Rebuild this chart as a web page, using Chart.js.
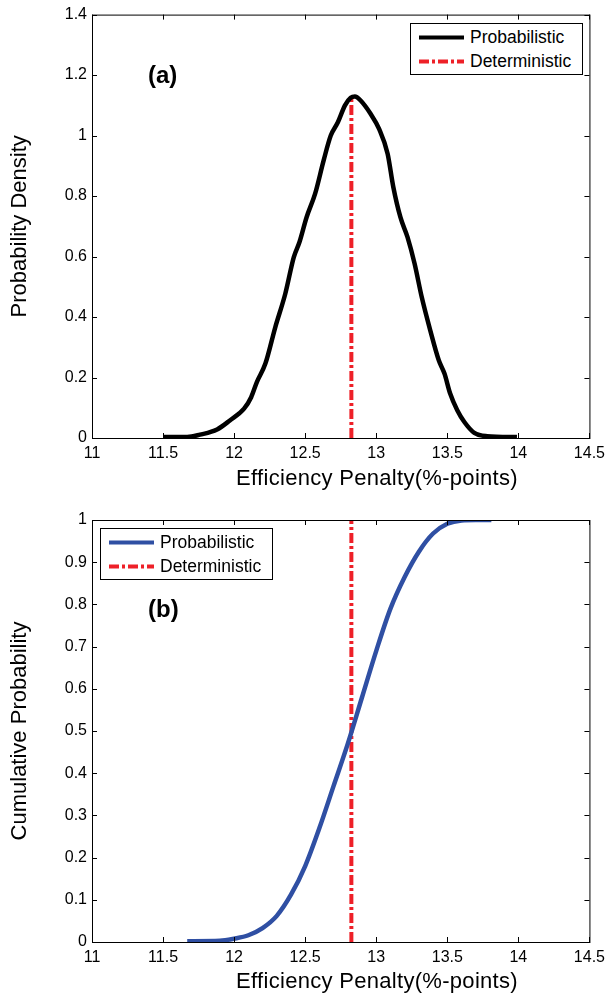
<!DOCTYPE html>
<html>
<head>
<meta charset="utf-8">
<script src="https://cdn.jsdelivr.net/npm/chart.js@4/dist/chart.umd.min.js"></script>
<style>
  body { margin: 0; background: #fff; font-family: "Liberation Sans", Arial, sans-serif; }
  #page { position: relative; width: 611px; height: 997px; overflow: hidden; }
  canvas { position: absolute; left: 0; }
  .xtitle { position: absolute; font-size: 22px; line-height: 22px; white-space: nowrap; transform: translateX(-50%); letter-spacing: 0.3px; }
  .panel { position: absolute; font-size: 24px; line-height: 24px; font-weight: bold; }
  .legend { position: absolute; width: 171px; height: 50px; border: 1px solid #000; background: #fff; }
  .legend svg { position: absolute; left: 0; top: 0; }
  .legend span { position: absolute; left: 59px; font-size: 17.5px; line-height: 18px; }
</style>
</head>
<body>
<div id="page">
  <canvas id="chartA" width="611" height="490" style="top:0"></canvas>
  <canvas id="chartB" width="611" height="507" style="top:490px"></canvas>

  <div class="panel" style="left:148px; top:63px">(a)</div>
  <div class="panel" style="left:148px; top:597px">(b)</div>

  <div class="xtitle" style="left:377px; top:467px">Efficiency Penalty(%-points)</div>
  <div class="xtitle" style="left:377px; top:970px">Efficiency Penalty(%-points)</div>

  <div class="legend" style="left:410px; top:23px">
    <svg width="171" height="50">
      <line x1="8" y1="13.5" x2="53" y2="13.5" stroke="#000" stroke-width="4"/>
      <line x1="8" y1="37.5" x2="53" y2="37.5" stroke="#ee2028" stroke-width="4" stroke-dasharray="10 3 3 3"/>
    </svg>
    <span style="top:4px">Probabilistic</span>
    <span style="top:28px">Deterministic</span>
  </div>

  <div class="legend" style="left:100px; top:528px">
    <svg width="171" height="50">
      <line x1="8" y1="13.5" x2="53" y2="13.5" stroke="#2f4fa3" stroke-width="4"/>
      <line x1="8" y1="37.5" x2="53" y2="37.5" stroke="#ee2028" stroke-width="4" stroke-dasharray="10 3 3 3"/>
    </svg>
    <span style="top:4px">Probabilistic</span>
    <span style="top:28px">Deterministic</span>
  </div>
</div>

<script>
// x values shared by both panels
const xTicks = [11, 11.5, 12, 12.5, 13, 13.5, 14, 14.5];
const yTicksA = [0, 0.2, 0.4, 0.6, 0.8, 1, 1.2, 1.4];
const yTicksB = [0, 0.1, 0.2, 0.3, 0.4, 0.5, 0.6, 0.7, 0.8, 0.9, 1];

// (a) probability density
const pdfX = [11.505, 11.67, 11.76, 11.88, 11.97, 12.07, 12.12, 12.16, 12.22, 12.29, 12.36, 12.42, 12.46,
  12.51, 12.57, 12.63, 12.68, 12.73, 12.78, 12.82, 12.85, 12.89, 12.96, 13.02, 13.08, 13.12, 13.17,
  13.22, 13.27, 13.32, 13.38, 13.44, 13.48, 13.52, 13.57, 13.62, 13.69, 13.78, 13.99];
const pdfY = [0.003, 0.003, 0.011, 0.028, 0.058, 0.097, 0.135, 0.185, 0.246, 0.367, 0.477, 0.598, 0.648,
  0.73, 0.808, 0.918, 1.0, 1.044, 1.10, 1.125, 1.129, 1.116, 1.072, 1.022, 0.94, 0.83, 0.73,
  0.664, 0.576, 0.466, 0.356, 0.257, 0.213, 0.147, 0.092, 0.053, 0.017, 0.006, 0.003];

// (b) cumulative probability
const cdfX = [11.67, 11.9, 12.0, 12.1, 12.2, 12.3, 12.4, 12.5, 12.6, 12.7, 12.8, 12.9, 13.0,
  13.1, 13.2, 13.3, 13.4, 13.5, 13.6, 13.7, 13.81];
const cdfY = [0.002, 0.003, 0.008, 0.016, 0.033, 0.062, 0.112, 0.18, 0.27, 0.37, 0.47, 0.58, 0.69,
  0.79, 0.865, 0.925, 0.968, 0.991, 0.999, 1.0, 1.0];

// deterministic value
const detX = 12.825;
const detTopA = 1.13;
const detTopB = 1;

Chart.defaults.font.family = '"Liberation Sans", Arial, sans-serif';
Chart.defaults.color = '#000';

const framePlugin = {
  id: "frame",
  afterDatasetsDraw(chart) {
    const { ctx, chartArea: a, scales } = chart;
    const x = scales.x, y = scales.y;
    ctx.save();
    ctx.strokeStyle = "#000";
    ctx.lineWidth = 1;
    ctx.strokeRect(a.left + 0.5, a.top + 0.5, a.right - a.left, a.bottom - a.top);
    ctx.beginPath();
    x.ticks.forEach((t) => {
      const px = Math.round(x.getPixelForValue(t.value)) + 0.5;
      ctx.moveTo(px, a.bottom); ctx.lineTo(px, a.bottom - 5);
      ctx.moveTo(px, a.top); ctx.lineTo(px, a.top + 5);
    });
    y.ticks.forEach((t) => {
      const py = Math.round(y.getPixelForValue(t.value)) + 0.5;
      ctx.moveTo(a.left, py); ctx.lineTo(a.left + 5, py);
      ctx.moveTo(a.right, py); ctx.lineTo(a.right - 5, py);
    });
    ctx.stroke();
    ctx.restore();
  },
};

function makeChart(id, opts) {
  const canvasH = opts.canvasH;
  return new Chart(document.getElementById(id), {
    type: "line",
    data: {
      datasets: [
        {
          label: "Probabilistic",
          data: opts.xs.map((v, i) => ({ x: v, y: opts.ys[i] })),
          borderColor: opts.color,
          borderWidth: 4.5,
          pointRadius: 0,
          cubicInterpolationMode: "monotone",
        },
        {
          label: "Deterministic",
          data: [{ x: detX, y: 0 }, { x: detX, y: opts.detTop }],
          borderColor: "#ee2028",
          borderWidth: 4,
          borderDash: [10, 3, 3, 3],
          pointRadius: 0,
        },
      ],
    },
    options: {
      responsive: false,
      animation: false,
      events: [],
      layout: { padding: { top: opts.top, right: 20, left: 0, bottom: 0 } },
      plugins: { legend: { display: false }, tooltip: { enabled: false } },
      scales: {
        x: {
          type: "linear",
          min: 11,
          max: 14.5,
          afterBuildTicks: (s) => { s.ticks = xTicks.map((v) => ({ value: v })); },
          afterFit: (s) => { s.height = canvasH - opts.bottom; },
          grid: { display: false, drawTicks: false },
          border: { display: false },
          ticks: { font: { size: 16 }, padding: 6, maxRotation: 0, callback: (v) => String(v) },
        },
        y: {
          min: 0,
          max: opts.yTicks[opts.yTicks.length - 1],
          afterBuildTicks: (s) => { s.ticks = opts.yTicks.map((v) => ({ value: v })); },
          afterFit: (s) => { s.width = 92; },
          grid: { display: false, drawTicks: false },
          border: { display: false },
          ticks: { font: { size: 16 }, padding: 5, callback: (v) => String(+v.toFixed(2)) },
          title: { display: true, text: opts.yTitle, font: { size: 22 }, padding: { top: 7, bottom: 0 } },
        },
      },
    },
    plugins: [framePlugin],
  });
}

makeChart("chartA", {
  canvasH: 490, top: 14, bottom: 438,
  xs: pdfX, ys: pdfY, color: "#000", detTop: detTopA,
  yTicks: yTicksA, yTitle: "Probability Density",
});

makeChart("chartB", {
  canvasH: 507, top: 30, bottom: 452,
  xs: cdfX, ys: cdfY, color: "#2f4fa3", detTop: detTopB,
  yTicks: yTicksB, yTitle: "Cumulative Probability",
});
</script>
</body>
</html>
